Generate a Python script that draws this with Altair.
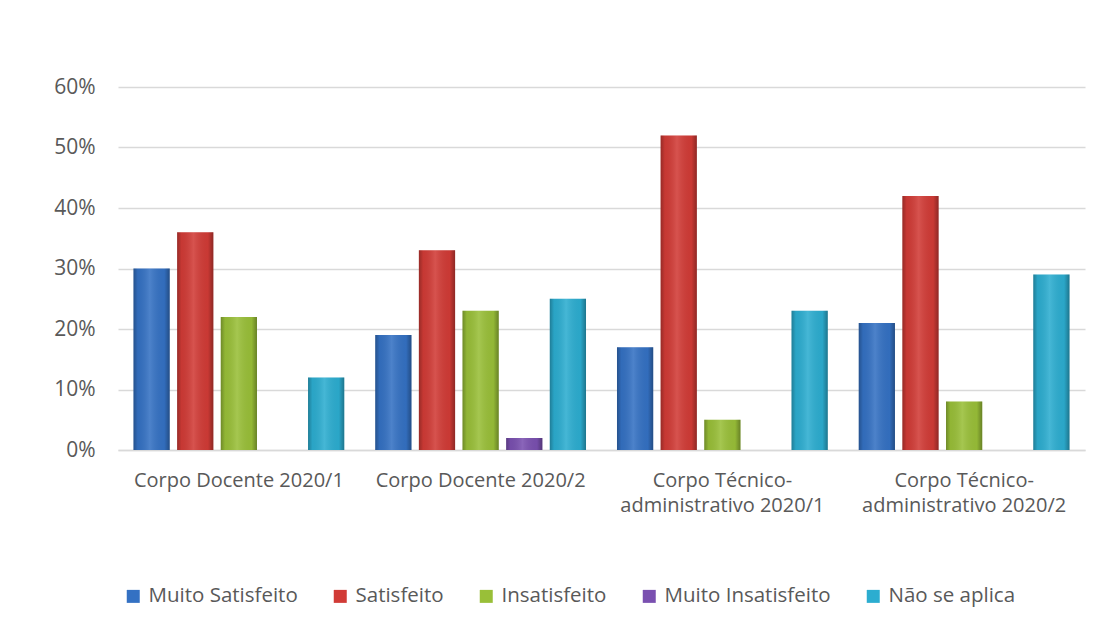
import altair as alt
import pandas as pd

categories = [
    "Corpo Docente 2020/1",
    "Corpo Docente 2020/2",
    "Corpo Técnico-administrativo 2020/1",
    "Corpo Técnico-administrativo 2020/2",
]
series = ["Muito Satisfeito", "Satisfeito", "Insatisfeito", "Muito Insatisfeito", "Não se aplica"]
muito_satisfeito = [0.30, 0.19, 0.17, 0.21]
satisfeito = [0.36, 0.33, 0.52, 0.42]
insatisfeito = [0.22, 0.23, 0.05, 0.08]
muito_insatisfeito = [0.0, 0.02, 0.0, 0.0]
nao_se_aplica = [0.12, 0.25, 0.23, 0.29]
colors = ["#3471c3", "#d13b36", "#99bf38", "#7a50b0", "#2cadd0"]

values = [muito_satisfeito, satisfeito, insatisfeito, muito_insatisfeito, nao_se_aplica]
rows = []
for s, vals in zip(series, values):
    for c, v in zip(categories, vals):
        rows.append({"Categoria": c, "Serie": s, "Valor": v})
df = pd.DataFrame(rows)

label_font = "Open Sans"
text_color = "#595959"

x_enc = alt.X(
    "Categoria:N",
    sort=categories,
    scale=alt.Scale(paddingInner=0, paddingOuter=0),
    axis=alt.Axis(
        title=None,
        labelAngle=0,
        ticks=False,
        domainColor="#d9d9d9",
        domainWidth=1.5,
        labelFont=label_font,
        labelFontSize=20,
        labelColor=text_color,
        labelPadding=20,
        labelLineHeight=25,
        labelBaseline="top",
        labelLimit=400,
        labelExpr="indexof(datum.label,'-')>0 ? [substring(datum.label,0,indexof(datum.label,'-')+1), substring(datum.label,indexof(datum.label,'-')+1)] : datum.label",
    ),
)
xoff_enc = alt.XOffset(
    "Serie:N",
    sort=series,
    scale=alt.Scale(paddingInner=0.17, paddingOuter=0.355),
)
y_enc = alt.Y(
    "Valor:Q",
    scale=alt.Scale(domain=[0, 0.6], nice=False),
    axis=alt.Axis(
        title=None,
        format=".0%",
        values=[0, 0.1, 0.2, 0.3, 0.4, 0.5, 0.6],
        ticks=False,
        domain=False,
        gridColor="#d9d9d9",
        gridWidth=1.5,
        labelFont=label_font,
        labelFontSize=21,
        labelColor=text_color,
        labelPadding=23,
    ),
)

base = alt.Chart(df)

bars = base.mark_bar().encode(
    x=x_enc,
    xOffset=xoff_enc,
    y=y_enc,
    color=alt.Color(
        "Serie:N",
        sort=series,
        scale=alt.Scale(domain=series, range=colors),
        legend=alt.Legend(
            title=None,
            orient="none",
            direction="horizontal",
            columns=5,
            legendX=5,
            legendY=499,
            symbolType="square",
            symbolSize=169,
            symbolStrokeWidth=0,
            labelFont=label_font,
            labelFontSize=20.5,
            labelColor=text_color,
            labelOffset=5,
            labelLimit=400,
            columnPadding=32,
            padding=0,
        ),
    ),
)

shine = base.mark_bar(
    fill=alt.Gradient(
        gradient="linear",
        x1=0, x2=1, y1=0, y2=0,
        stops=[
            alt.GradientStop(offset=0, color="rgba(0,0,0,0.28)"),
            alt.GradientStop(offset=0.12, color="rgba(0,0,0,0.05)"),
            alt.GradientStop(offset=0.45, color="rgba(255,255,255,0.12)"),
            alt.GradientStop(offset=0.85, color="rgba(0,0,0,0.04)"),
            alt.GradientStop(offset=1, color="rgba(0,0,0,0.32)"),
        ],
    )
).encode(x=x_enc, xOffset=xoff_enc, y=y_enc)

chart = (
    alt.layer(bars, shine)
    .properties(
        width=967,
        height=363,
        autosize=alt.AutoSizeParams(type="none"),
        padding={"left": 110, "top": 79, "right": 16, "bottom": 166},
        background="white",
    )
    .configure_view(stroke=None)
)

chart.save("out.html", embed_options={"renderer": "svg", "actions": False})
